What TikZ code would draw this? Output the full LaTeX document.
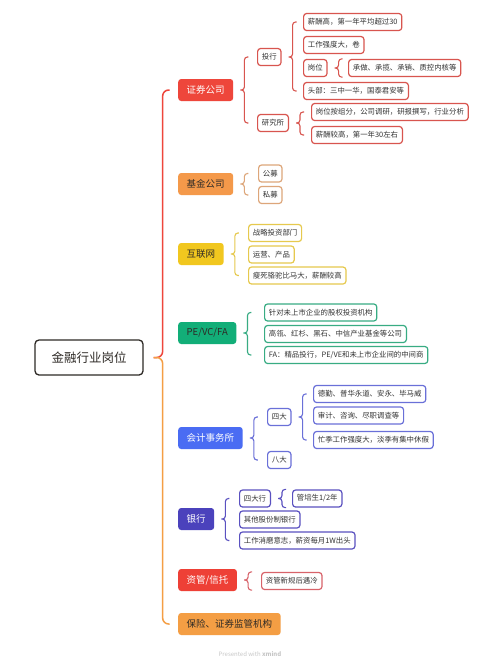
\documentclass[tikz,border=0pt]{standalone}
\usepackage{fontspec}
\setmainfont{Noto Sans CJK SC}
\usetikzlibrary{calc}
\definecolor{cRed}{HTML}{EE463B}
\definecolor{cOrange}{HTML}{F4994A}
\definecolor{cYellow}{HTML}{F1C71F}
\definecolor{cGreen}{HTML}{12AE78}
\definecolor{cBlue}{HTML}{4A6CF3}
\definecolor{cIndigo}{HTML}{4B42BC}
\definecolor{cRed2}{HTML}{EE4036}
\definecolor{cOrange2}{HTML}{F49E44}
\definecolor{lRed}{HTML}{D8554F}
\definecolor{lOrange}{HTML}{DDA67A}
\definecolor{lYellow}{HTML}{E6C94E}
\definecolor{lGreen}{HTML}{38AC83}
\definecolor{lBlue}{HTML}{6A70D8}
\definecolor{lIndigo}{HTML}{5A51C0}
\definecolor{lRed2}{HTML}{D8636A}
\definecolor{leaftext}{HTML}{333333}
\definecolor{darktext}{HTML}{2E2A26}
\tikzset{
  root/.style={draw=darktext, line width=1.3pt, rounded corners=4pt, fill=white,
    minimum width=108pt, minimum height=35pt, inner sep=0pt,
    font=\fontsize{12.5}{14}\selectfont, text=darktext},
  mainbr/.style={fill=#1, rounded corners=3pt, inner xsep=8.5pt, inner ysep=0pt,
    minimum height=22pt, anchor=west, font=\fontsize{9.5}{11}\selectfont},
  leaf/.style={draw=#1, line width=1.2pt, rounded corners=3pt, fill=white,
    inner xsep=4.3pt, inner ysep=0pt, minimum height=17pt, anchor=west,
    font=\fontsize{7.4}{8}\selectfont, text=leaftext},
  bracestyle/.style={draw=#1, line width=1.1pt, rounded corners=3pt},
  mainbrace/.style={draw=#1, line width=1.5pt, rounded corners=6pt},
}
\newcommand\brc[4]{\draw[bracestyle=#1] let \p1=([xshift=7pt]#2.east), \p2=(#3), \p3=(#4) in
  (\p1) -- (\x1+4pt,\y1) -- (\x1+4pt,\y2) -- (\x1+8pt,\y2)
  (\p1) -- (\x1+4pt,\y1) -- (\x1+4pt,\y3) -- (\x1+8pt,\y3);}
\begin{document}
\begin{tikzpicture}[x=1pt,y=-1pt]
\useasboundingbox[fill=white] (0,0) rectangle (500,667);
% root
\node[root] (root) at (89,357.5) {金融行业岗位};
% main branches
\node[mainbr=cRed, text=white] (zq) at (178,90) {证券公司};
\node[mainbr=cOrange, text=darktext] (jj) at (178,184) {基金公司};
\node[mainbr=cYellow, text=darktext] (hl) at (178,254) {互联网};
\node[mainbr=cGreen, text=darktext] (pe) at (178,333) {PE/VC/FA};
\node[mainbr=cBlue, text=white] (kj) at (178,438) {会计事务所};
\node[mainbr=cIndigo, text=white] (yh) at (178,519) {银行};
\node[mainbr=cRed2, text=white] (zg) at (178,580) {资管/信托};
\node[mainbr=cOrange2, text=darktext] (bx) at (178,624) {保险、证券监管机构};
% main brace
\draw[mainbrace=cRed] let \p1=([xshift=10pt]root.east), \p2=(zq.west) in
  (\p1) -- (\x1+9pt,\y1) -- (\x1+9pt,\y2) -- (\x1+16pt,\y2);
\draw[mainbrace=cOrange2] let \p1=([xshift=10pt]root.east), \p2=(bx.west) in
  (\p1) -- (\x1+9pt,\y1) -- (\x1+9pt,\y2) -- (\x1+16pt,\y2);
% 证券公司
\node[leaf=lRed] (tx) at (257,57) {投行};
\node[leaf=lRed] (yj) at (257,123) {研究所};
\node[leaf=lRed] (tx1) at (303,22) {薪酬高，第一年平均超过30};
\node[leaf=lRed] (tx2) at (303,45) {工作强度大，卷};
\node[leaf=lRed] (tx3) at (303,68) {岗位};
\node[leaf=lRed] (tx31) at (348,68) {承做、承揽、承销、质控内核等};
\node[leaf=lRed] (tx4) at (303,91) {头部：三中一华，国泰君安等};
\node[leaf=lRed] (yj1) at (311,112) {岗位按组分，公司调研，研报撰写，行业分析};
\node[leaf=lRed] (yj2) at (311,135) {薪酬较高，第一年30左右};
\brc{lRed}{zq}{tx.west}{yj.west}
\brc{lRed}{tx}{tx1.west}{tx4.west}
\brc{lRed}{tx3}{tx31.north}{tx31.south}
\brc{lRed}{yj}{yj1.west}{yj2.west}
% 基金公司
\node[leaf=lOrange] (gm) at (258,173.5) {公募};
\node[leaf=lOrange] (sm) at (258,195) {私募};
\brc{lOrange}{jj}{gm.west}{sm.west}
% 互联网
\node[leaf=lYellow] (hl1) at (248,233) {战略投资部门};
\node[leaf=lYellow] (hl2) at (248,254.5) {运营、产品};
\node[leaf=lYellow] (hl3) at (248,275.5) {瘦死骆驼比马大，薪酬较高};
\brc{lYellow}{hl}{hl1.west}{hl3.west}
% PE/VC/FA
\node[leaf=lGreen] (pe1) at (264,312.5) {针对未上市企业的股权投资机构};
\node[leaf=lGreen] (pe2) at (264,334) {高瓴、红杉、黑石、中信产业基金等公司};
\node[leaf=lGreen] (pe3) at (264,355) {FA：精品投行，PE/VE和未上市企业间的中间商};
\brc{lGreen}{pe}{pe1.west}{pe3.west}
% 会计事务所
\node[leaf=lBlue] (sd) at (267,417) {四大};
\node[leaf=lBlue] (bd) at (267,460) {八大};
\node[leaf=lBlue] (sd1) at (313,394) {德勤、普华永道、安永、毕马威};
\node[leaf=lBlue] (sd2) at (313,415.5) {审计、咨询、尽职调查等};
\node[leaf=lBlue] (sd3) at (313,440) {忙季工作强度大，淡季有集中休假};
\brc{lBlue}{kj}{sd.west}{bd.west}
\brc{lBlue}{sd}{sd1.west}{sd3.west}
% 银行
\node[leaf=lIndigo] (yh1) at (239,498.5) {四大行};
\node[leaf=lIndigo] (yh11) at (292,498.5) {管培生1/2年};
\node[leaf=lIndigo] (yh2) at (239,519.5) {其他股份制银行};
\node[leaf=lIndigo] (yh3) at (239,540.5) {工作消磨意志，薪资每月1W出头};
\brc{lIndigo}{yh}{yh1.west}{yh3.west}
\brc{lIndigo}{yh1}{yh11.north}{yh11.south}
% 资管/信托
\node[leaf=lRed2] (zg1) at (261,581) {资管新规后遇冷};
\brc{lRed2}{zg}{zg1.north}{zg1.south}
% watermark
\node[font=\fontsize{6}{7}\selectfont, text=black!22] (wm) at (250,654) {Presented with \textbf{xmind}};
\end{tikzpicture}
\end{document}
